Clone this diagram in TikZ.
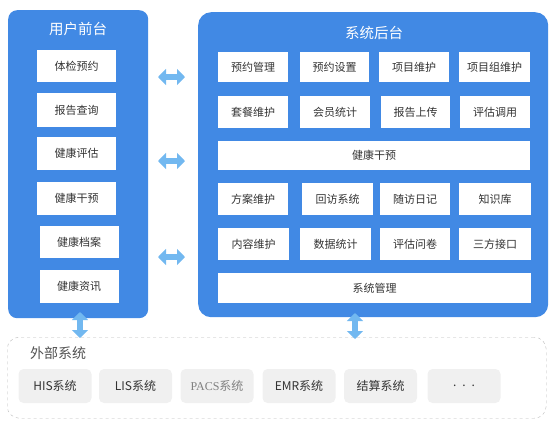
\documentclass[tikz,border=0pt]{standalone}
\usepackage{fontspec}
\setmainfont{Noto Sans CJK SC}
\newfontfamily\pacsfont{Liberation Serif}
\usetikzlibrary{arrows.meta}
\definecolor{panelblue}{HTML}{4189E4}
\definecolor{arrowblue}{HTML}{72B8F0}
\definecolor{txt}{HTML}{333333}
\definecolor{extgray}{HTML}{F0F0F0}
\tikzset{
  panel/.style={fill=panelblue, draw=none, rounded corners=9pt},
  wbox/.style={fill=white, draw=none, text=txt, font=\fontsize{11}{13}\selectfont, inner sep=0pt},
  gbox/.style={fill=extgray, draw=none, rounded corners=5pt, text=txt, font=\fontsize{12}{14}\selectfont, minimum width=73pt, minimum height=34pt, inner sep=0pt},
  ptitle/.style={text=white, font=\fontsize{14.5}{16}\selectfont},
  fatarrow/.style={draw=arrowblue, line width=6.5pt, {Triangle[width=16pt,length=8pt]}-{Triangle[width=16pt,length=8pt]}},
}
\begin{document}
\begin{tikzpicture}[x=1pt,y=-1pt]
\useasboundingbox (0,0) rectangle (554,424);
% left panel
\node[panel, minimum width=140pt, minimum height=308pt, anchor=north west] (L) at (8,10) {};
\node[ptitle] (Lt) at (78,29) {用户前台};
\foreach \n/\x/\ya/\yb/\t in {l1/76.5/50/82/体检预约, l2/76.5/93/127/报告查询, l3/76.5/137/170/健康评估, l4/76.5/182/215/健康干预, l5/79/226/258/健康档案, l6/79/270/303/健康资讯}{
  \node[wbox, minimum width=79pt, minimum height={\yb-\ya}] (\n) at (\x,{(\ya+\yb)/2}) {\t};
}
% right panel
\node[panel, rounded corners=13pt, minimum width=350pt, minimum height=305pt, anchor=north west] (R) at (198,12) {};
\node[ptitle] (Rt) at (374,33) {系统后台};
\foreach \n/\xa/\xb/\ya/\yb/\t in {
 r1/218/288/52/82/预约管理, r2/300/369/52/82/预约设置, r3/379/449/52/82/项目维护, r4/459/530/52/82/项目组维护,
 r5/218/288/96/128/套餐维护, r6/300/370/96/128/会员统计, r7/381/450/96/128/报告上传, r8/460/530/96/128/评估调用,
 r9/218/530/141/170/健康干预,
 r10/218/288/183/215/方案维护, r11/302/373/183/215/回访系统, r12/380/450/183/215/随访日记, r13/459/531/183/215/知识库,
 r14/218/289/228/260/内容维护, r15/300/371/228/260/数据统计, r16/380/450/228/260/评估问卷, r17/459/531/228/260/三方接口,
 r18/218/531/273/303/系统管理}{
  \node[wbox, minimum width={\xb-\xa}, minimum height={\yb-\ya}] (\n) at ({(\xa+\xb)/2},{(\ya+\yb)/2}) {\t};
}
% external
\node[draw=gray!55, dashed, rounded corners=12pt, minimum width=539pt, minimum height=81pt, anchor=north west] (E) at (7,337) {};
\node[text=txt!85, font=\fontsize{14}{16}\selectfont] (Et) at (58,353) {外部系统};
\node[gbox] (e1) at (55,386) {HIS系统};
\node[gbox] (e2) at (135.5,386) {LIS系统};
\node[gbox, text=gray] (e3) at (217,386) {{\pacsfont PACS}系统};
\node[gbox] (e4) at (299,386) {EMR系统};
\node[gbox] (e5) at (380.5,386) {结算系统};
\node[gbox] (e6) at (464,386) {.\hspace{6pt}.\hspace{6pt}.};
% arrows
\coordinate (a1l) at (158,77); \coordinate (a1r) at (185,77);
\coordinate (a2l) at (158,161); \coordinate (a2r) at (185,161);
\coordinate (a3l) at (158,257); \coordinate (a3r) at (185,257);
\draw[fatarrow] (a1l) -- (a1r);
\draw[fatarrow] (a2l) -- (a2r);
\draw[fatarrow] (a3l) -- (a3r);
\coordinate (v1t) at (80,312); \coordinate (v1b) at (80,338);
\coordinate (v2t) at (355,313); \coordinate (v2b) at (355,339);
\draw[fatarrow] (v1t) -- (v1b);
\draw[fatarrow] (v2t) -- (v2b);
\end{tikzpicture}
\end{document}
